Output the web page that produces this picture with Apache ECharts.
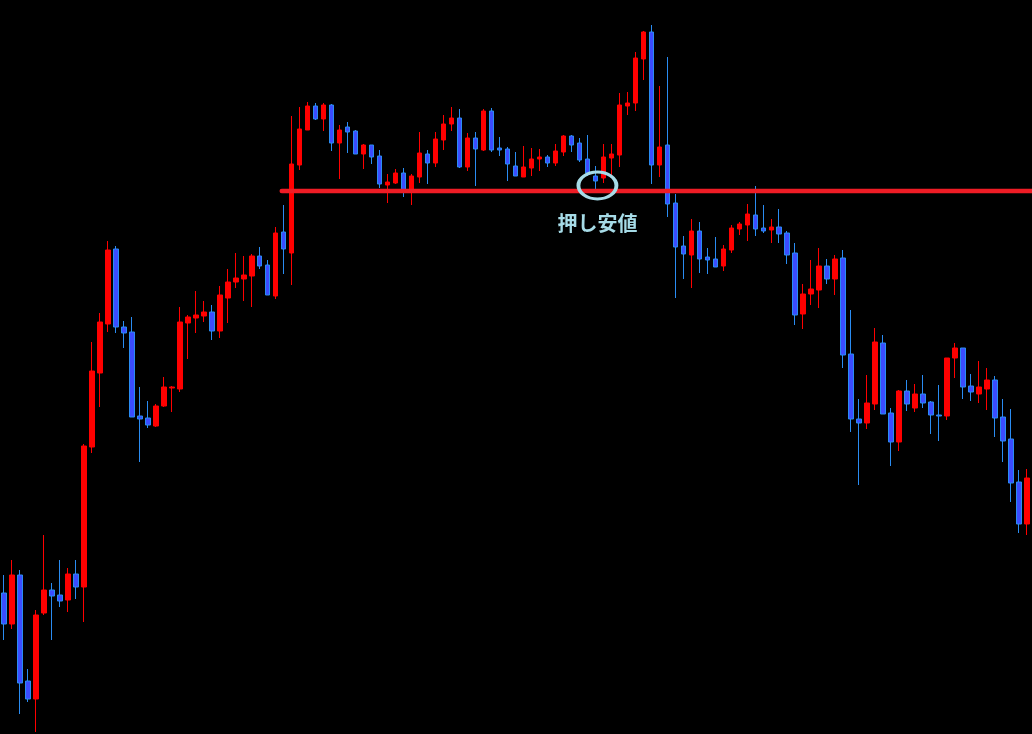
<!DOCTYPE html>
<html><head><meta charset="utf-8">
<script src="https://cdn.jsdelivr.net/npm/echarts@6/dist/echarts.min.js"></script>
<style>html,body{margin:0;padding:0;background:#000;overflow:hidden}#c{width:1032px;height:734px;}</style>
</head><body><div id="c"></div>
<script>
const opens=[144.07,143.76,144.25,143.19,143.01,143.87,144.10,144.05,144.00,144.26,
144.13,145.53,146.27,146.76,147.51,146.73,146.68,145.84,145.82,145.74,
145.94,146.12,146.11,146.77,146.82,146.84,146.88,146.69,147.02,147.18,
147.21,147.24,147.44,147.35,147.04,147.68,147.47,148.35,148.70,148.94,
148.81,148.95,148.57,148.73,148.69,148.46,148.55,148.44,148.15,148.17,
148.27,148.10,148.23,148.46,148.37,148.60,148.76,148.82,148.33,148.62,
148.50,148.89,148.52,148.51,148.34,148.23,148.32,148.41,148.43,148.37,
148.48,148.64,148.57,148.41,148.24,148.22,148.42,148.45,148.94,148.97,
149.41,149.68,148.35,148.55,147.97,147.54,147.45,147.69,147.43,147.41,
147.34,147.50,147.71,147.75,147.85,147.72,147.70,147.73,147.67,147.47,
146.86,147.06,147.10,147.34,147.21,147.42,146.46,145.81,145.77,145.96,
146.57,145.87,145.58,146.09,145.92,146.06,145.98,145.85,145.84,146.42,
146.52,146.14,146.06,146.11,146.20,145.83,145.61,145.18,144.76];
const closes=[143.76,144.25,143.17,143.01,143.85,144.10,144.04,143.99,144.26,144.13,
145.54,146.29,146.78,147.50,146.73,146.67,145.83,145.81,145.75,145.94,
146.13,146.13,146.78,146.83,146.85,146.88,146.69,147.05,147.18,147.22,
147.25,147.44,147.34,147.05,147.67,147.51,148.36,148.71,148.94,148.81,
148.95,148.57,148.70,148.68,148.46,148.55,148.43,148.16,148.18,148.27,
148.10,148.24,148.47,148.37,148.61,148.76,148.82,148.33,148.62,148.51,
148.89,148.50,148.50,148.36,148.24,148.33,148.41,148.43,148.37,148.49,
148.64,148.55,148.40,148.27,148.19,148.43,148.46,148.95,148.97,149.42,
149.68,148.35,148.53,147.96,147.53,147.46,147.69,147.41,147.40,147.33,
147.51,147.72,147.76,147.86,147.71,147.69,147.73,147.66,147.45,146.85,
147.06,147.11,147.34,147.21,147.41,146.45,145.81,145.77,145.97,146.58,
145.86,145.58,146.09,145.96,146.06,145.97,145.85,145.84,146.42,146.52,
146.13,146.08,146.13,146.20,145.82,145.59,145.17,144.76,145.22];
const lows=[143.60,143.71,142.86,142.98,142.68,143.85,143.60,143.93,143.88,144.01,
143.78,145.47,145.93,146.68,146.67,146.52,145.83,145.38,145.72,145.73,
145.93,145.88,146.08,146.41,146.67,146.78,146.60,146.62,146.77,147.12,
146.99,146.93,147.31,147.05,147.01,147.26,147.15,148.30,148.70,148.80,
148.69,148.49,148.21,148.47,148.46,148.31,148.36,148.12,147.97,148.16,
148.03,147.95,148.17,148.16,148.33,148.50,148.69,148.32,148.29,148.14,
148.49,148.48,148.44,148.19,148.24,148.23,148.24,148.29,148.33,148.34,
148.44,148.48,148.38,148.24,148.10,148.17,148.24,148.33,148.85,148.89,
149.20,148.16,148.23,147.83,147.02,147.21,147.12,147.27,147.26,147.33,
147.29,147.47,147.65,147.59,147.64,147.67,147.57,147.57,147.36,146.75,
146.71,146.95,146.92,147.16,147.05,146.32,145.68,145.15,145.71,145.90,
145.86,145.34,145.49,145.89,145.88,145.92,145.66,145.59,145.80,146.22,
146.01,145.99,145.97,145.90,145.63,145.38,144.98,144.67,144.65];
const highs=[144.25,144.40,144.30,143.31,143.90,144.65,144.17,144.40,144.32,144.40,
145.56,146.58,146.87,147.59,147.54,146.79,146.83,146.13,145.99,145.96,
146.23,146.14,146.93,146.85,147.09,146.99,146.95,147.14,147.31,147.47,
147.44,147.46,147.53,147.40,147.73,147.95,148.84,148.93,148.98,148.97,
148.97,148.96,148.75,148.78,148.70,148.56,148.55,148.50,148.26,148.31,
148.32,148.26,148.68,148.50,148.68,148.85,148.93,148.91,148.67,148.68,
148.91,148.92,148.63,148.53,148.48,148.54,148.52,148.51,148.45,148.56,
148.65,148.65,148.62,148.65,148.34,148.56,148.56,149.07,149.08,149.48,
149.69,149.75,149.14,149.43,148.06,147.64,147.81,147.78,147.52,147.63,
147.55,147.75,147.78,147.96,148.14,147.95,147.81,147.91,147.69,147.57,
147.16,147.40,147.52,147.41,147.45,147.50,146.90,146.01,146.25,146.72,
146.65,145.92,146.10,146.20,146.16,146.25,145.99,146.15,146.42,146.57,
146.52,146.26,146.39,146.32,146.24,146.01,145.91,145.30,145.31];
const categories = opens.map((_, i) => 'C' + (i + 1));
const supportLevel = 148.09;
const supportStartIndex = 35;
const markIndex = 74;
const markValue = 148.145;
const markLabel = '押し安値';

const candleData = opens.map((o, i) => [o, closes[i], lows[i], highs[i]]);
const chart = echarts.init(document.getElementById('c'), null, {renderer: 'canvas'});
chart.setOption({
  backgroundColor: '#000000',
  animation: false,
  grid: {left: -1, right: 1, top: 0, bottom: 0},
  xAxis: {type: 'category', data: categories, show: false, boundaryGap: true},
  yAxis: {type: 'value', min: 142.66, max: 150, show: false, splitLine: {show: false}},
  series: [{
    type: 'candlestick',
    data: candleData,
    barWidth: 5,
    z: 2,
    itemStyle: {
      color: '#ff0000', borderColor: '#ff0000',
      color0: '#3b4cff', borderColor0: '#2a8cf2',
      borderWidth: 1
    }
  }, {
    type: 'scatter',
    z: 10,
    silent: true,
    data: [[markIndex, markValue]],
    symbol: 'circle',
    symbolSize: [38, 27],
    symbolOffset: [2, 0],
    itemStyle: {color: 'rgba(0,0,0,0)', borderColor: '#a6dbe7', borderWidth: 3.3, opacity: 1},
    label: {
      show: true, formatter: markLabel, position: 'inside', offset: [0, 38],
      color: '#a6dbe7', fontSize: 20, fontWeight: 'bold',
      fontFamily: '"Noto Sans CJK JP", "Noto Sans", sans-serif'
    }
  }]
});
const p = chart.convertToPixel({gridIndex: 0}, [supportStartIndex, supportLevel]);
chart.setOption({
  graphic: [{
    type: 'line', z: 5, silent: true,
    shape: {x1: p[0] - 2, y1: p[1], x2: chart.getWidth(), y2: p[1]},
    style: {stroke: '#ee1c25', lineWidth: 4.5, lineCap: 'round'}
  }]
});
</script>
</body></html>
